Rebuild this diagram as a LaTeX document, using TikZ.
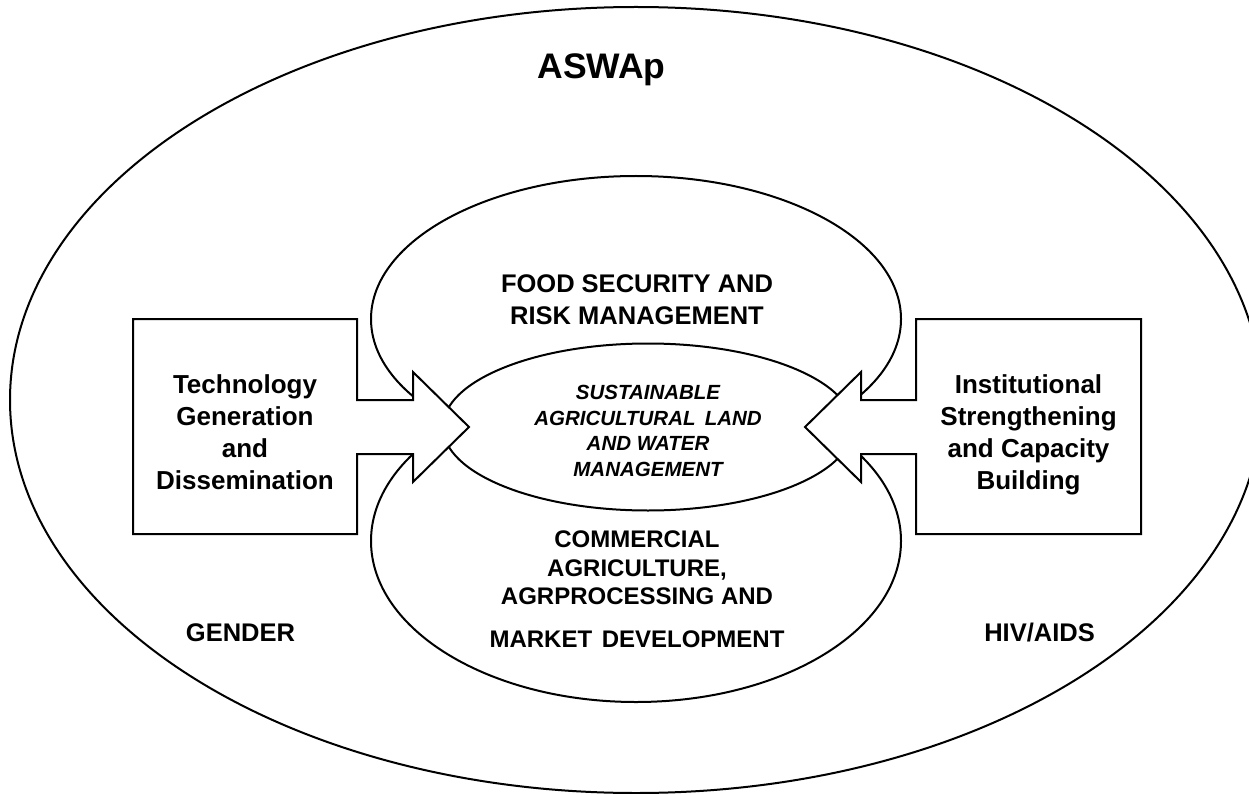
\documentclass[tikz,border=0pt]{standalone}
\usepackage{fontspec}
\setmainfont{Liberation Sans}
\usetikzlibrary{shapes.geometric}
\begin{document}
\begin{tikzpicture}[x=1pt,y=-1pt,line width=2pt,line join=miter,
  oval/.style={draw=black,fill=white,ellipse,inner sep=0pt,outer sep=0pt},
  shapeline/.style={draw=black,fill=white},
  tx/.style={anchor=base,inner sep=0pt,font=\bfseries\fontsize{26}{30}\selectfont},
  title/.style={anchor=base,inner sep=0pt,font=\bfseries\fontsize{35.5}{40}\selectfont},
  toptx/.style={anchor=base,inner sep=0pt,font=\bfseries\fontsize{25.5}{30}\selectfont},
  midtx/.style={anchor=base,inner sep=0pt,font=\bfseries\itshape\fontsize{20.5}{24}\selectfont},
  bottx/.style={anchor=base,inner sep=0pt,font=\bfseries\fontsize{24}{28}\selectfont}]
\useasboundingbox (0,0) rectangle (1249,794);
\clip (0,0) rectangle (1249,794);
% outer ellipse
\node[oval,minimum width=1252pt,minimum height=786pt] (aswap) at (636,400) {};
% three inner ellipses
\node[oval,minimum width=530pt,minimum height=286pt] (food) at (636,319) {};
\node[oval,minimum width=530pt,minimum height=322pt] (comm) at (636,541) {};
\node[oval,minimum width=410pt,minimum height=167pt] (land) at (648,427) {};
% left box with arrow
\draw[shapeline] (133,319) -- (357,319) -- (357,400) -- (413,400) -- (413,372)
  -- (469,427) -- (413,482) -- (413,454) -- (357,454) -- (357,534) -- (133,534) -- cycle;
% right box with arrow
\draw[shapeline] (1141,319) -- (916,319) -- (916,400) -- (861,400) -- (861,372)
  -- (805,427) -- (861,482) -- (861,454) -- (916,454) -- (916,534) -- (1141,534) -- cycle;
% texts
\node[title] (t0) at (601.5,79) {ASWAp};
\node[toptx] (f1) at (637,292) {FOOD SECURITY AND};
\node[toptx] (f2) at (637,324) {RISK MANAGEMENT};
\node[midtx] (m1) at (648,399) {SUSTAINABLE};
\node[midtx] (m2) at (648,425) {AGRICULTURAL\hspace{0.45em}LAND};
\node[midtx] (m3) at (648,450) {AND WATER};
\node[midtx] (m4) at (648,476) {MANAGEMENT};
\node[bottx] (c1) at (637,547) {COMMERCIAL};
\node[bottx] (c2) at (637,576) {AGRICULTURE,};
\node[bottx] (c3) at (637,604) {AGRPROCESSING AND};
\node[bottx] (c4) at (637,647) {MARKET\hspace{0.4em}DEVELOPMENT};
\node[tx] (l1) at (245,393) {Technology};
\node[tx] (l2) at (245,425) {Generation};
\node[tx] (l3) at (245,457) {and};
\node[tx] (l4) at (245,489) {Dissemination};
\node[tx] (r1) at (1028.5,393) {Institutional};
\node[tx] (r2) at (1028.5,425) {Strengthening};
\node[tx] (r3) at (1028.5,457) {and Capacity};
\node[tx] (r4) at (1028.5,489) {Building};
\node[toptx] (g) at (240.5,641) {GENDER};
\node[toptx] (h) at (1039.5,641) {HIV/AIDS};
\end{tikzpicture}
\end{document}
